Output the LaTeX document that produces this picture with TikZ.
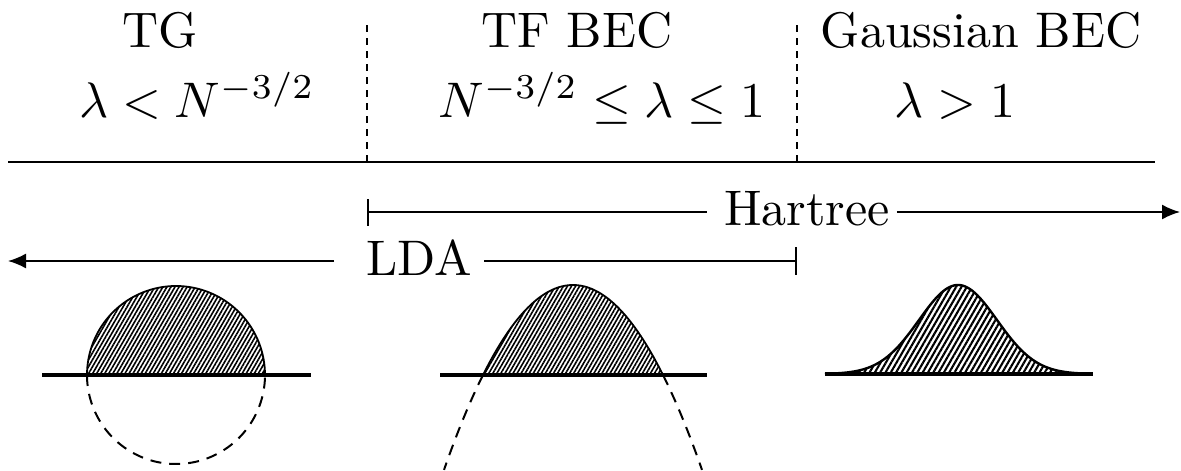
\documentclass[tikz,border=0pt]{standalone}
\usetikzlibrary{arrows.meta,patterns.meta}
\begin{document}
\begin{tikzpicture}[x=1pt,y=-1pt,
  lbl/.style={inner sep=0pt, anchor=base, font=\fontsize{10}{12}\selectfont, scale=5},
  thinline/.style={line width=1.8pt},
  ground/.style={line width=3.5pt},
  hatch/.style={line width=1.8pt, pattern={Lines[angle=60,distance=3.5pt,line width=1.6pt]}},
  hatchg/.style={line width=2.4pt, pattern={Lines[angle=60,distance=4.6pt,line width=2.1pt]}},
  vdash/.style={line width=1.5pt, dash pattern=on 7pt off 6pt},
  cdash/.style={line width=2pt, dash pattern=on 11pt off 8pt},
  tip/.style={-{Latex[length=18pt,width=15pt]}},
  bartip/.style={{Bar[width=27pt]}-}
]
\useasboundingbox (0,0) rectangle (1181,471);

% headings
\node[lbl] (tg) at (160,47) {TG};
\node[lbl] (tgc) at (197,117) {$\lambda < N^{-3/2}$};
\node[lbl] (tf) at (577,47) {TF BEC};
\node[lbl] (tfc) at (602,117) {$N^{-3/2} \le \lambda \le 1$};
\node[lbl] (gb) at (981,47) {Gaussian BEC};
\node[lbl] (gbc) at (955,117) {$\lambda > 1$};

% separators
\draw[vdash] (367,25) -- (367,162);
\draw[vdash] (797,25) -- (797,162);
\draw[thinline] (8,162) -- (1155,162);

% Hartree
\node[lbl] (hart) at (807,225) {Hartree};
\coordinate (hL) at (367,212);
\coordinate (hR) at (1180,212);
\draw[thinline,bartip] (hL) -- ([xshift=-16pt]hart.west |- hL);
\draw[thinline,tip] ([xshift=6pt]hart.east |- hR) -- (hR);

% LDA
\node[lbl] (lda) at (419,275) {LDA};
\coordinate (lL) at (8,261);
\coordinate (lR) at (797,261);
\draw[thinline,tip] ([xshift=-31pt]lda.west |- lL) -- (lL);
\draw[thinline,{Bar[width=28pt]}-] (lR) -- ([xshift=11pt]lda.east |- lR);

% TG: semicircle
\draw[hatch] plot[domain=0:180,samples=90] ({176+89*cos(\x)},{375-89*sin(\x)}) -- cycle;
\draw[cdash] plot[domain=180:360,samples=90] ({176+89*cos(\x)},{375-89*sin(\x)});
\draw[ground] (42,375) -- (311,375);

% TF: parabola
\draw[hatch] plot[domain=-90:90,samples=90] ({573+\x},{285+90*(\x/90)^2}) -- cycle;
\draw[cdash] plot[domain=-90:-129,samples=30] ({573+\x},{285+90*(\x/90)^2});
\draw[cdash] plot[domain=90:129,samples=30] ({573+\x},{285+90*(\x/90)^2});
\draw[ground] (440,375) -- (707,375);

% Gaussian
\draw[hatchg] plot[domain=-133:133,samples=120] ({958+\x},{374-89*exp(-0.5*(\x/39)^2)}) -- cycle;
\draw[ground] (825,374) -- (1093,374);
\end{tikzpicture}
\end{document}
